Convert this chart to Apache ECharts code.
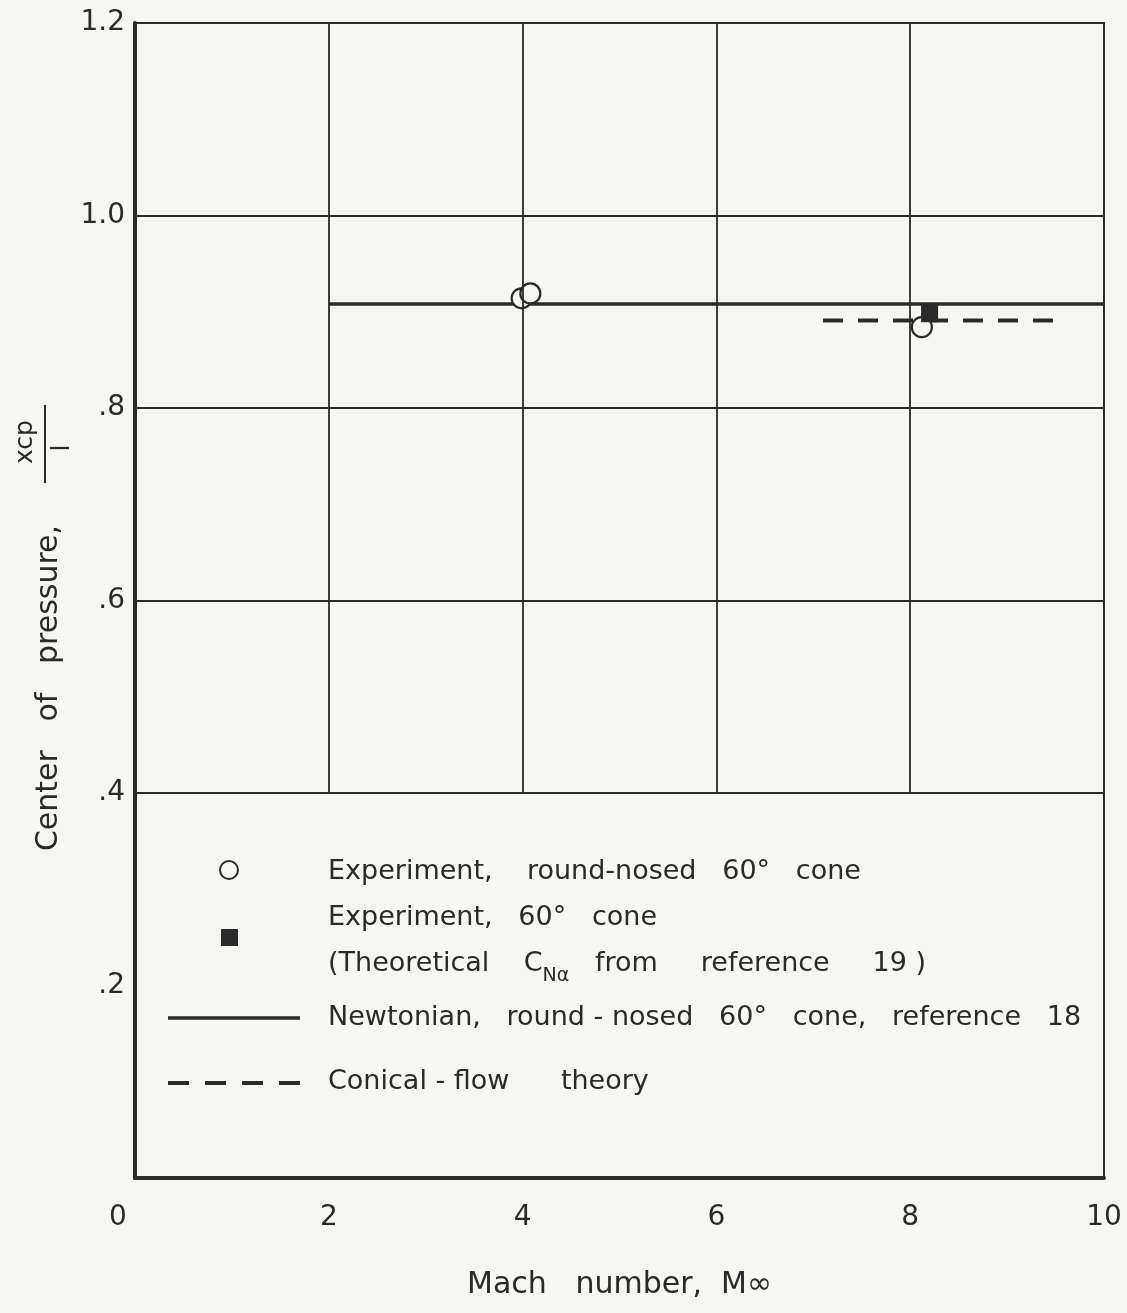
<!DOCTYPE html>
<html>
<head>
<meta charset="utf-8">
<title>Center of pressure vs Mach number</title>
<script src="https://cdn.jsdelivr.net/npm/echarts@6/dist/echarts.min.js"></script>
<style>
  html, body { margin: 0; padding: 0; background: #f6f6f2; }
  #chart { width: 1127px; height: 1313px; }
</style>
</head>
<body>
<div id="chart"></div>
<script>
// Newtonian theory, round-nosed 60 deg cone (reference 18)
const newtonMach = [2, 10];
const newtonXcp = [0.908, 0.908];

// Conical-flow theory
const conicalMach = [7.1, 9.5];
const conicalXcp = [0.891, 0.891];

// Experiment, round-nosed 60 deg cone
const roundNosedMach = [3.99, 4.08, 8.12];
const roundNosedXcp = [0.914, 0.919, 0.884];

// Experiment, 60 deg cone (theoretical C_N_alpha from reference 19)
const coneMach = [8.2];
const coneXcp = [0.899];

// Axis ticks and grid rules
const xTicks = [0, 2, 4, 6, 8, 10];
const yTicks = [0, 0.2, 0.4, 0.6, 0.8, 1.0, 1.2];
const gridMachLines = [2, 4, 6, 8];
const gridXcpLines = [0.4, 0.6, 0.8, 1.0];

const INK = '#2a2a2a';
const PAPER = '#f6f6f2';
const FONT = 'DejaVu Sans';
const LEG = '27px "' + FONT + '"';

const zip = (a, b) => a.map((v, i) => [v, b[i]]);

const gridRules = [];
gridMachLines.forEach(m => gridRules.push([{ coord: [m, 0.4] }, { coord: [m, 1.2] }]));
gridXcpLines.forEach(y => gridRules.push([{ coord: [0, y] }, { coord: [10, y] }]));

const chart = echarts.init(document.getElementById('chart'), null, { renderer: 'canvas' });

const option = {
  backgroundColor: PAPER,
  animation: false,
  grid: {
    left: 135, right: 23, top: 23, bottom: 135,
    show: true, borderColor: INK, borderWidth: 2, backgroundColor: 'transparent'
  },
  xAxis: {
    type: 'value', min: 0, max: 10, interval: 2,
    axisLine: { show: true, onZero: false, lineStyle: { color: INK, width: 4 } },
    axisTick: { show: false },
    splitLine: { show: false },
    axisLabel: {
      color: INK, fontFamily: FONT, fontSize: 28, margin: 26,
      formatter: v => {
        if (!xTicks.includes(v)) return '';
        return v === 0 ? '{z|0}' : String(v);
      },
      rich: { z: { fontFamily: FONT, fontSize: 28, color: INK, padding: [0, 34, 0, 0] } }
    },
    name: 'Mach   number,  M\u221E',
    nameLocation: 'middle', nameGap: 92,
    nameTextStyle: { color: INK, fontFamily: FONT, fontSize: 30 }
  },
  yAxis: {
    type: 'value', min: 0, max: 1.2, interval: 0.2,
    axisLine: { show: true, onZero: false, lineStyle: { color: INK, width: 4 } },
    axisTick: { show: false },
    splitLine: { show: false },
    axisLabel: {
      color: INK, fontFamily: FONT, fontSize: 28, margin: 10,
      formatter: v => {
        if (v === 0 || !yTicks.some(t => Math.abs(t - v) < 1e-9)) return '';
        const t = v.toFixed(1);
        return v < 1 ? t.slice(1) : t;
      }
    }
  },
  series: [
    {
      name: 'grid',
      type: 'line',
      data: [],
      silent: true,
      z: 1,
      markLine: {
        silent: true,
        symbol: ['none', 'none'],
        label: { show: false },
        lineStyle: { color: INK, width: 1.8, type: 'solid' },
        emphasis: { disabled: true },
        data: gridRules
      }
    },
    {
      name: 'Newtonian, round-nosed 60\u00B0 cone, reference 18',
      type: 'line',
      data: zip(newtonMach, newtonXcp),
      showSymbol: false,
      symbol: 'none',
      z: 3,
      lineStyle: { color: INK, width: 3.5 }
    },
    {
      name: 'Conical-flow theory',
      type: 'line',
      data: zip(conicalMach, conicalXcp),
      showSymbol: false,
      symbol: 'none',
      z: 3,
      lineStyle: { color: INK, width: 4, type: [20, 15] }
    },
    {
      name: 'Experiment, round-nosed 60\u00B0 cone',
      type: 'scatter',
      data: zip(roundNosedMach, roundNosedXcp),
      symbol: 'circle',
      symbolSize: 20,
      z: 4,
      itemStyle: { color: PAPER, borderColor: INK, borderWidth: 2.2, opacity: 1 }
    },
    {
      name: 'Experiment, 60\u00B0 cone',
      type: 'scatter',
      data: zip(coneMach, coneXcp),
      symbol: 'rect',
      symbolSize: [17, 19],
      z: 5,
      itemStyle: { color: INK, opacity: 1 }
    }
  ],
  graphic: [
    // y-axis title, read bottom to top
    {
      type: 'text', x: 49, y: 688, rotation: Math.PI / 2,
      style: { text: 'Center   of   pressure,', fill: INK, font: '30px "' + FONT + '"', align: 'center', verticalAlign: 'middle' }
    },
    {
      type: 'text', x: 25, y: 442, rotation: Math.PI / 2,
      style: { text: 'xcp', fill: INK, font: '25px "' + FONT + '"', align: 'center', verticalAlign: 'middle' }
    },
    {
      type: 'line', shape: { x1: 45, y1: 405, x2: 45, y2: 483 },
      style: { stroke: INK, lineWidth: 2 }
    },
    {
      type: 'text', x: 62, y: 448, rotation: Math.PI / 2,
      style: { text: 'l', fill: INK, font: '25px "' + FONT + '"', align: 'center', verticalAlign: 'middle' }
    },

    // legend block inside the plot frame
    {
      type: 'circle', shape: { cx: 229, cy: 870, r: 9 },
      style: { fill: PAPER, stroke: INK, lineWidth: 2 }
    },
    {
      type: 'text', x: 328, y: 872,
      style: { text: 'Experiment,    round-nosed   60\u00B0   cone', fill: INK, font: LEG, verticalAlign: 'middle' }
    },
    {
      type: 'rect', shape: { x: 221, y: 929, width: 17, height: 17 },
      style: { fill: INK }
    },
    {
      type: 'text', x: 328, y: 918,
      style: { text: 'Experiment,   60\u00B0   cone', fill: INK, font: LEG, verticalAlign: 'middle' }
    },
    {
      type: 'text', x: 328, y: 968,
      style: {
        text: '{n|(Theoretical    C}{s|N\u03B1}{n|   from     reference     19 )}',
        fill: INK, verticalAlign: 'middle',
        rich: {
          n: { fontFamily: FONT, fontSize: 27, fill: INK, lineHeight: 36, verticalAlign: 'top' },
          s: { fontFamily: FONT, fontSize: 19, fill: INK, lineHeight: 36, verticalAlign: 'bottom' }
        }
      }
    },
    {
      type: 'line', shape: { x1: 168, y1: 1018, x2: 300, y2: 1018 },
      style: { stroke: INK, lineWidth: 3.5 }
    },
    {
      type: 'text', x: 328, y: 1018,
      style: { text: 'Newtonian,   round - nosed   60\u00B0   cone,   reference   18', fill: INK, font: LEG, verticalAlign: 'middle' }
    },
    {
      type: 'line', shape: { x1: 168, y1: 1083, x2: 300, y2: 1083 },
      style: { stroke: INK, lineWidth: 4, lineDash: [21, 16] }
    },
    {
      type: 'text', x: 328, y: 1082,
      style: { text: 'Conical - flow      theory', fill: INK, font: LEG, verticalAlign: 'middle' }
    }
  ]
};

chart.setOption(option);
</script>
</body>
</html>
